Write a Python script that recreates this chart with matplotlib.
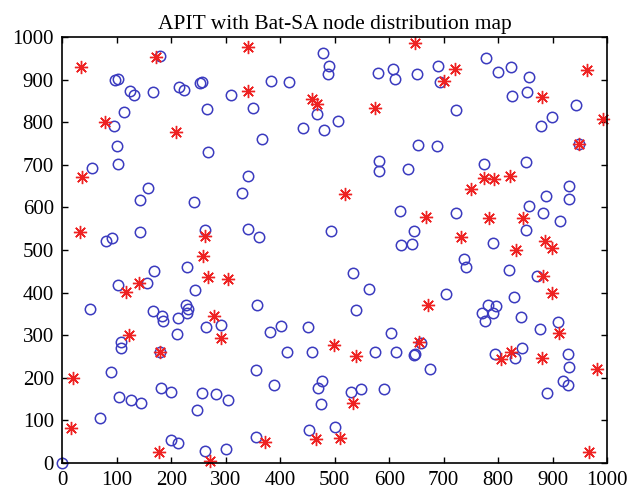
"""
APIT with Bat-SA node distribution map
Blue circles: nodes, red asterisks: anchor nodes
"""

import matplotlib
matplotlib.use('Agg')
import matplotlib.pyplot as plt

# node positions (blue circles)
node_x = [180, 96, 103, 125, 131, 166, 215, 223, 252, 256, 310, 265, 114, 95, 100,
          268, 102, 54, 340, 479, 489, 487, 384, 417, 579, 607, 611, 651, 350, 468,
          442, 481, 506, 366, 653, 582, 582, 634, 777, 689, 694, 799, 824, 857, 826,
          853, 722, 943, 898, 879, 949, 688, 773, 850,
          158, 142, 242, 330, 81, 91, 142, 262, 340, 361, 168, 229, 102, 156, 243,
          51, 166, 183, 185, 213, 228, 231, 229, 620, 494, 646, 622, 642, 534, 562,
          358, 539, 930, 930, 887, 857, 882, 914, 722, 850, 790, 737, 741, 820, 871,
          704, 829, 782, 795, 770, 791, 776, 841, 264, 292, 108, 108, 211, 180,
          89, 182, 199, 105, 127, 144, 257, 282, 305, 248, 70, 200, 213, 262, 300, 0,
          909, 876, 658, 648, 675, 794, 830, 844, 928, 930, 919, 928, 889,
          382, 401, 451, 603, 413, 458, 574, 613, 645,
          355, 389, 476, 470, 530, 548, 590, 475, 355, 453, 501]
node_y = [955, 899, 901, 873, 864, 872, 882, 876, 891, 895, 864, 831, 825, 792, 743,
          730, 703, 692, 673, 962, 933, 913, 896, 894, 915, 924, 901, 912, 834, 819,
          787, 782, 802, 761, 746, 709, 686, 690, 950, 933, 894, 919, 929, 905, 861,
          871, 829, 840, 813, 792, 748, 743, 703, 707,
          645, 617, 612, 633, 520, 529, 542, 548, 549, 531, 451, 461, 419, 423, 406,
          361, 357, 346, 334, 340, 370, 361, 352, 591, 545, 545, 512, 515, 446, 408,
          370, 358, 651, 620, 627, 603, 586, 568, 588, 547, 517, 480, 459, 452, 440,
          397, 390, 372, 368, 351, 352, 334, 343, 320, 325, 285, 269, 302, 261,
          213, 177, 167, 156, 148, 142, 165, 162, 149, 124, 106, 53, 46, 28, 33, 0,
          331, 314, 281, 255, 221, 257, 247, 269, 255, 226, 193, 183, 165,
          307, 322, 319, 304, 260, 260, 260, 260, 254,
          218, 183, 192, 177, 166, 174, 174, 138, 62, 77, 85]

# anchor positions (red asterisks)
anchor_x = [35, 172, 79, 209, 37, 341, 341, 458, 468, 574, 648, 720, 701, 963, 881,
            993, 949, 773, 793, 822, 750,
            518, 668, 783, 845, 731, 886, 898, 832, 882, 899, 672,
            32, 262, 259, 268, 305, 141, 117, 278, 123, 292, 180,
            19, 17, 177, 272,
            911, 654, 805, 824, 880, 982, 966,
            499, 539, 534, 372, 465, 509]
anchor_y = [930, 952, 801, 776, 672, 976, 874, 854, 843, 833, 987, 925, 897, 922, 860,
            808, 748, 668, 666, 674, 643,
            631, 578, 575, 576, 531, 521, 504, 500, 440, 400, 371,
            542, 533, 487, 436, 431, 423, 402, 346, 300, 294, 261,
            200, 83, 26, 5,
            304, 285, 243, 261, 246, 221, 25,
            278, 252, 142, 50, 56, 59]

ticks = list(range(0, 1001, 100))

plt.rcParams['font.family'] = ['Liberation Serif', 'DejaVu Serif']

fig = plt.figure(figsize=(6.28, 5.0), dpi=100)
ax = fig.add_axes([0.099, 0.074, 0.868, 0.852])

ax.plot(node_x, node_y, linestyle='none', marker='o', markersize=7.5,
        markerfacecolor='none', markeredgecolor='#3b3bbf', markeredgewidth=1.1,
        clip_on=False)
ax.plot(anchor_x, anchor_y, linestyle='none', marker=(8, 2, 0), markersize=9.5,
        markeredgecolor='#ee2222', markerfacecolor='#ee2222', markeredgewidth=1.0,
        clip_on=False)

ax.set_xlim(0, 1000)
ax.set_ylim(0, 1000)
ax.set_xticks(ticks)
ax.set_yticks(ticks)
ax.tick_params(direction='in', top=True, right=True, length=4, width=1,
               labelsize=15, pad=6)
for sp in ax.spines.values():
    sp.set_linewidth(1.2)

ax.set_title('APIT with Bat-SA node distribution map', fontsize=15.5, pad=6)

fig.savefig('out.png', dpi=100)
